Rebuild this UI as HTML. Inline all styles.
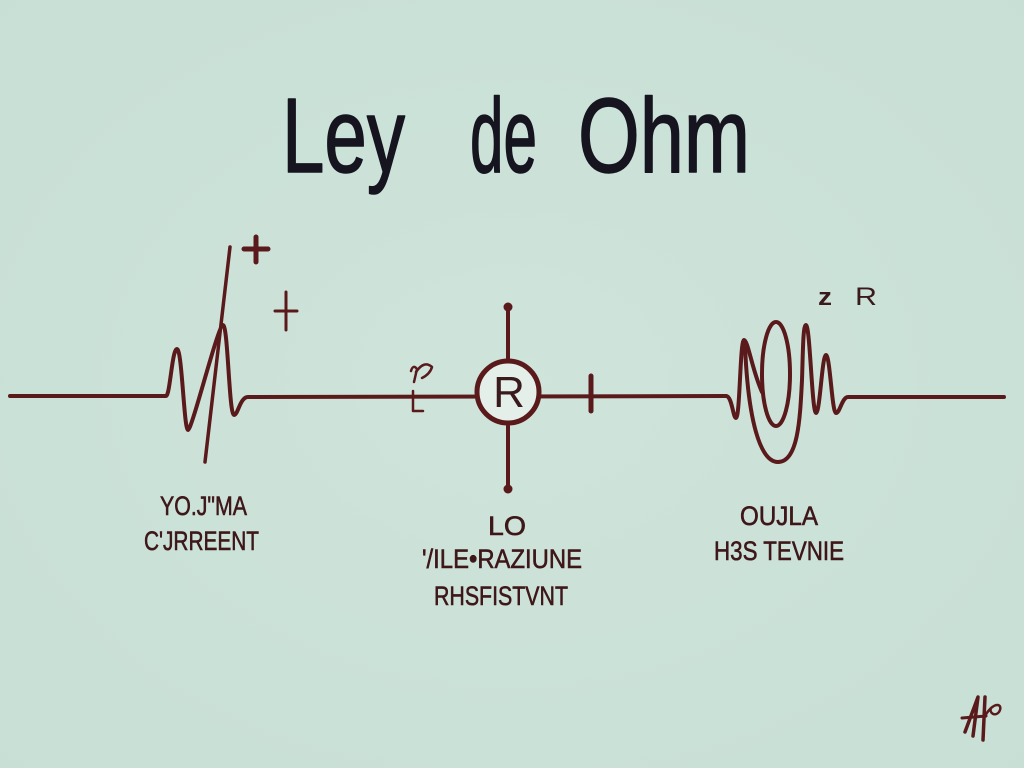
<!DOCTYPE html>
<html>
<head>
<meta charset="utf-8">
<style>
  html, body { margin: 0; padding: 0; }
  body { width: 1024px; height: 768px; overflow: hidden; background: #cbe2d9; }
  svg { display: block; }
</style>
</head>
<body>
<svg width="1024" height="768" viewBox="0 0 1024 768" xmlns="http://www.w3.org/2000/svg">
  <defs>
    <radialGradient id="bg" cx="50%" cy="50%" r="75%">
      <stop offset="0%" stop-color="#cfe4db"/>
      <stop offset="100%" stop-color="#c7dfd5"/>
    </radialGradient>
  </defs>
  <rect x="0" y="0" width="1024" height="768" fill="url(#bg)"/>

  <!-- Title -->
  <g font-family="'Liberation Sans', 'DejaVu Sans', sans-serif" font-size="106" fill="#16141f" stroke="#16141f" stroke-width="1.5" stroke-linejoin="round">
    <text x="282" y="172" textLength="123" lengthAdjust="spacingAndGlyphs">Ley</text>
    <text x="470" y="172" textLength="67" lengthAdjust="spacingAndGlyphs">de</text>
    <text x="578" y="172" textLength="172" lengthAdjust="spacingAndGlyphs">Ohm</text>
  </g>

  <g fill="none" stroke="#5a1a1c" stroke-linecap="round" stroke-linejoin="round">
    <!-- Main line with left waveform -->
    <path d="M10 396 L166 396 C170 396 172 349 177 349 C182 349 184 430 188 430 C192 430 218 325 223 325 C228 325 229 415 234 415 C238 415 240 397 248 397 L726 396" stroke-width="4"/>
    <!-- Diagonal slash -->
    <path d="M230 247 L205 462" stroke-width="3.5"/>
    <!-- Plus signs -->
    <path d="M256 237 L256 262 M244 249 L268 249" stroke-width="5"/>
    <path d="M286 292 L286 330 M275 311 L297 311" stroke-width="3"/>
    <!-- small scribble -->
    <path d="M411 371 Q413 364 417 369 L414 382" stroke-width="2.5"/>
    <path d="M416 372 Q424 360 432 367 Q430 374 422 378" stroke-width="2.5"/>
    <path d="M413 391 L413 411 L423 411" stroke-width="2.5"/>

    <!-- Resistor verticals -->
    <path d="M508 307 L508 362 M508 422 L508 489" stroke-width="4"/>
    <!-- Tick -->
    <path d="M591 376 L591 411" stroke-width="5"/>

    <!-- Right waveform -->
    <path d="M726 396 C732 396 733 418 736 418 C740 418 740 340 744 340 C748 340 752 370 762 392" stroke-width="4"/>
    <ellipse cx="776" cy="374" rx="14" ry="52" stroke-width="4"/>
    <path d="M745 345 C748 420 760 462 778 462 C798 462 800 420 802 380 C803 350 803 325 806 325 C810 325 812 413 816 413 C820 413 822 355 826 355 C830 355 832 413 836 413 C840 413 842 397 848 397 L1004 397" stroke-width="4"/>

    <!-- Signature -->
    <path d="M965 732 L978 697 L973 736" stroke-width="3.5"/>
    <path d="M962 718 L986 716" stroke-width="3"/>
    <path d="M985 697 L983 740" stroke-width="3.5"/>
    <path d="M985 716 C994 700 1004 704 999 712 C995 717 989 713 991 708" stroke-width="2.5"/>
  </g>

  <!-- Resistor circle -->
  <circle cx="508" cy="392" r="31" fill="#e4efea" stroke="#5a1a1c" stroke-width="5"/>
  <text x="509" y="407" text-anchor="middle" font-family="'Liberation Sans', sans-serif" font-size="44" fill="#3a1a1c">R</text>
  <circle cx="508" cy="307" r="4.5" fill="#5a1a1c"/>
  <circle cx="508" cy="489" r="4.5" fill="#5a1a1c"/>

  <!-- z R -->
  <g font-family="'Liberation Sans', sans-serif" fill="#3a1a1c">
    <text x="818" y="305" font-size="24" font-weight="bold" textLength="14" lengthAdjust="spacingAndGlyphs">z</text>
    <text x="855" y="305" font-size="25" textLength="22" lengthAdjust="spacingAndGlyphs">R</text>
  </g>

  <!-- Labels -->
  <g font-family="'Liberation Sans', sans-serif" font-size="27" fill="#3e1719" stroke="#3e1719" stroke-width="0.6">
    <text x="160" y="515" textLength="87" lengthAdjust="spacingAndGlyphs">YO.J"MA</text>
    <text x="144" y="550" textLength="115" lengthAdjust="spacingAndGlyphs">C'JRREENT</text>
    <text x="488" y="535" textLength="38" lengthAdjust="spacingAndGlyphs">LO</text>
    <text x="422" y="568" textLength="160" lengthAdjust="spacingAndGlyphs">'/ILE•RAZIUNE</text>
    <text x="434" y="605" textLength="134" lengthAdjust="spacingAndGlyphs">RHSFISTVNT</text>
    <text x="740" y="525" textLength="78" lengthAdjust="spacingAndGlyphs">OUJLA</text>
    <text x="714" y="560" textLength="130" lengthAdjust="spacingAndGlyphs">H3S TEVNIE</text>
  </g>
</svg>
</body>
</html>
